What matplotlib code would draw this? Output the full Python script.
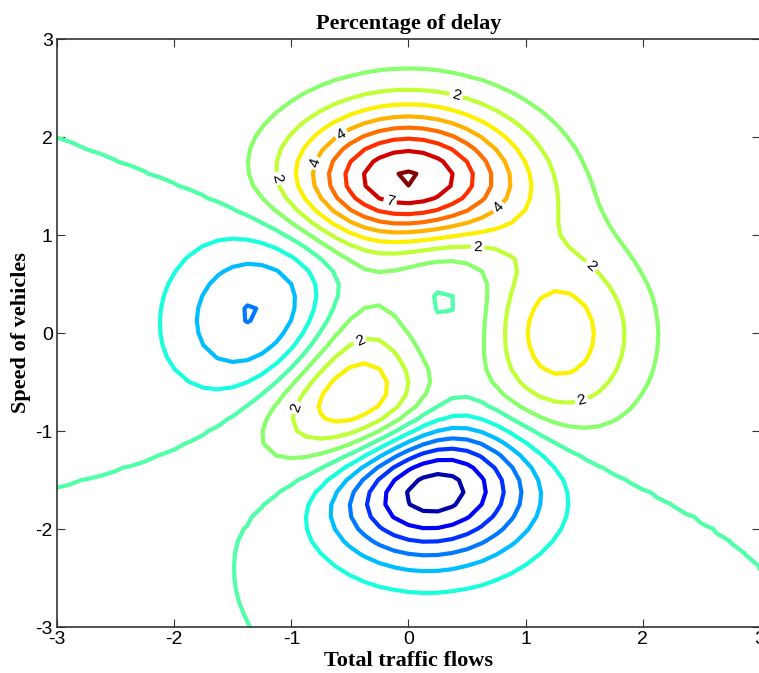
import numpy as np
import matplotlib
matplotlib.use("Agg")
import matplotlib.pyplot as plt

plt.rcParams["axes.unicode_minus"] = False

# MATLAB peaks() surface on its default 49x49 grid
n_grid = 49
xs = np.linspace(-3, 3, n_grid)
ys = np.linspace(-3, 3, n_grid)
X, Y = np.meshgrid(xs, ys)
Z = (3 * (1 - X) ** 2 * np.exp(-X ** 2 - (Y + 1) ** 2)
     - 10 * (X / 5 - X ** 3 - Y ** 5) * np.exp(-X ** 2 - Y ** 2)
     - 1 / 3 * np.exp(-(X + 1) ** 2 - Y ** 2))

levels = list(range(-6, 9))

# contour label spots
label_spots = {
    2: [(0.40, 2.40), (-1.18, 1.56), (0.59, 0.88), (1.54, 0.66),
        (-0.41, -0.09), (-0.96, -0.76), (1.48, -0.70)],
    4: [(-0.56, 2.0), (-0.78, 1.73), (0.76, 1.29)],
    7: [(-0.16, 1.33)],
}

fig = plt.figure(figsize=(7.59, 6.73), dpi=100)
ax = fig.add_axes([57 / 759, 1 - 627 / 673, (760 - 57) / 759, (627 - 39) / 673])

cmap = plt.get_cmap("jet")
norm = plt.Normalize(Z.min(), Z.max())

for lvl in levels:
    cs = ax.contour(X, Y, Z, levels=[lvl], colors=[cmap(norm(lvl))],
                    linewidths=3.0, linestyles="solid")
    if lvl in label_spots:
        txts = ax.clabel(cs, manual=label_spots[lvl], inline=True,
                         inline_spacing=2, fmt="%d", fontsize=11, colors="k")
        for t in txts:
            t.set_fontfamily("Liberation Sans")

ax.set_xlim(-3, 3)
ax.set_ylim(-3, 3)
ax.set_xticks(range(-3, 4))
ax.set_yticks(range(-3, 4))
ax.tick_params(direction="in", top=True, right=True, length=6,
               labelsize=14, color="#333333", pad=3)
for lab in ax.get_xticklabels() + ax.get_yticklabels():
    lab.set_fontfamily("Liberation Sans")
for sp in ax.spines.values():
    sp.set_color("#333333")
    sp.set_linewidth(1.2)

serif_bold = dict(fontfamily="Liberation Serif", fontweight="bold", fontsize=16)
ax.set_title("Percentage of delay", pad=7, **serif_bold)
ax.set_xlabel("Total traffic flows", labelpad=2, **serif_bold)
ax.set_ylabel("Speed of vehicles", labelpad=3, **serif_bold)

fig.savefig("out.png", dpi=100)
